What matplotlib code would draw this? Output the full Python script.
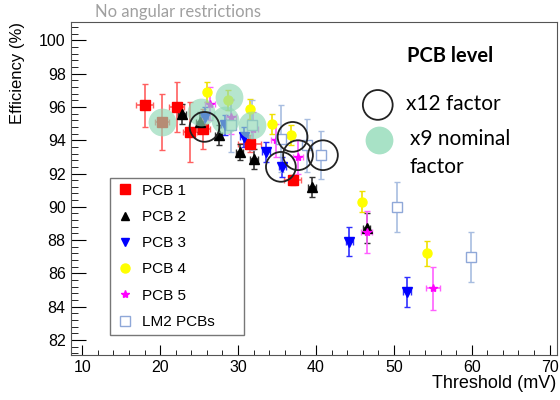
import matplotlib
matplotlib.use("Agg")
import matplotlib.pyplot as plt
from matplotlib.lines import Line2D
from matplotlib.ticker import MultipleLocator

plt.rcParams['font.family'] = ['Liberation Sans', 'DejaVu Sans']

# PCB 1
pcb1_x = [18.0, 20.3, 22.1, 23.8, 25.5, 31.5, 37.0]
pcb1_y = [96.1, 95.1, 96.0, 94.5, 94.7, 93.8, 91.6]
pcb1_xe = [1.1, 0.9, 0.9, 0.9, 0.9, 1.5, 1.1]
pcb1_ye = [1.3, 1.7, 1.5, 1.8, 1.2, 0.5, 0.3]
# PCB 2
pcb2_x = [22.8, 25.1, 27.5, 30.2, 32.0, 39.5, 46.5]
pcb2_y = [95.6, 95.1, 94.3, 93.3, 92.9, 91.2, 88.7]
pcb2_xe = [0.5, 0.5, 0.5, 0.5, 0.5, 0.5, 0.5]
pcb2_ye = [0.6, 0.6, 0.6, 0.5, 0.6, 0.6, 0.9]
# PCB 3
pcb3_x = [25.7, 28.3, 30.8, 33.6, 35.7, 44.3, 51.7]
pcb3_y = [95.4, 94.9, 94.2, 93.3, 92.4, 87.9, 84.9]
pcb3_xe = [0.5, 0.5, 0.5, 0.5, 0.5, 0.5, 0.5]
pcb3_ye = [0.6, 0.6, 0.6, 0.6, 0.6, 0.87, 0.9]
# PCB 4
pcb4_x = [26.0, 28.7, 31.5, 34.4, 36.8, 45.9, 54.3]
pcb4_y = [96.9, 96.4, 95.9, 95.0, 94.3, 90.3, 87.2]
pcb4_ye = [0.6, 0.6, 0.6, 0.6, 0.6, 0.63, 0.75]
# PCB 5
pcb5_x = [26.4, 29.1, 31.9, 34.9, 37.7, 46.5, 55.0]
pcb5_y = [96.2, 95.4, 94.7, 94.0, 93.0, 88.5, 85.1]
pcb5_xe = [0.7, 0.7, 0.7, 0.7, 0.7, 0.7, 0.9]
pcb5_ye = [1.0, 1.0, 1.0, 1.0, 1.0, 1.27, 1.3]
# LM2 PCBs
lm2_x = [29.1, 31.8, 35.5, 38.8, 40.7, 50.4, 59.9]
lm2_y = [94.9, 94.9, 94.1, 93.7, 93.1, 90.0, 87.0]
lm2_ye = [1.6, 1.5, 2.0, 1.6, 1.45, 1.5, 1.5]

# x12 factor (open circles) and x9 nominal factor (green)
x12_x = [25.7, 37.0, 37.7, 35.5, 40.9]
x12_y = [94.8, 94.2, 93.1, 92.4, 93.1]
x9_x = [20.3, 25.3, 28.8, 28.3, 31.8]
x9_y = [95.1, 95.7, 96.6, 95.2, 94.9]

fig = plt.figure(figsize=(5.6, 4.0), dpi=100)
ax = fig.add_axes([0.126, 0.1125, 0.868, 0.8325])

ax.errorbar(pcb1_x, pcb1_y, xerr=pcb1_xe, yerr=pcb1_ye, fmt='s', color='#ff0000',
            ecolor='#ff6060', ms=7, capsize=2, elinewidth=1.2, zorder=3)
ax.errorbar(pcb2_x, pcb2_y, xerr=pcb2_xe, yerr=pcb2_ye, fmt='^', color='black',
            ecolor='#333333', ms=6.5, capsize=2, elinewidth=1.2, zorder=3)
ax.errorbar(pcb3_x, pcb3_y, xerr=pcb3_xe, yerr=pcb3_ye, fmt='v', color='#0000ff',
            ecolor='#3030ff', ms=6.5, capsize=2, elinewidth=1.2, zorder=3)
ax.errorbar(pcb4_x, pcb4_y, yerr=pcb4_ye, fmt='o', color='#ffff00',
            ecolor='#f0e000', ms=6.5, capsize=2, elinewidth=1.2, zorder=3)
ax.errorbar(pcb5_x, pcb5_y, xerr=pcb5_xe, yerr=pcb5_ye, fmt='*', color='#ff00ff',
            ecolor='#ff60ff', ms=6, capsize=2, elinewidth=1.2, zorder=3)
ax.errorbar(lm2_x, lm2_y, yerr=lm2_ye, fmt='s', color='#a8bde0', mfc='white',
            mec='#8fa8d8', ms=7, capsize=2, elinewidth=1.2, zorder=3)

ax.scatter(x9_x, x9_y, s=400, color='#8fd8b4', alpha=0.65, lw=0, zorder=4)
ax.scatter(x12_x, x12_y, s=460, facecolors='none', edgecolors='#222222', lw=1.3, zorder=5)

ax.set_xlim(8.5, 70.9)
ax.set_ylim(81.1, 101.1)
ax.xaxis.set_major_locator(MultipleLocator(10))
ax.xaxis.set_minor_locator(MultipleLocator(2))
ax.yaxis.set_major_locator(MultipleLocator(2))
ax.yaxis.set_minor_locator(MultipleLocator(0.4))
ax.tick_params(which='both', direction='in', top=False, right=False, labelsize=11.5)
ax.tick_params(axis='y', which='major', length=11)
ax.tick_params(axis='y', which='minor', length=5)
ax.tick_params(axis='x', which='major', length=7)
ax.tick_params(axis='x', which='minor', length=3.5)
for sp in ax.spines.values():
    sp.set_color('#555555')

handles = [
    Line2D([], [], ls='none', marker='s', color='#ff0000', ms=6.5),
    Line2D([], [], ls='none', marker='^', color='black', ms=6),
    Line2D([], [], ls='none', marker='v', color='#0000ff', ms=6),
    Line2D([], [], ls='none', marker='o', color='#ffff00', ms=6.5),
    Line2D([], [], ls='none', marker='*', color='#ff00ff', ms=6),
    Line2D([], [], ls='none', marker='s', mfc='white', mec='#8fa8d8', ms=6.5),
]
labels = ['PCB 1', 'PCB 2', 'PCB 3', 'PCB 4', 'PCB 5', 'LM2 PCBs']
leg = ax.legend(handles, labels, loc='lower left', bbox_to_anchor=(0.081, 0.06, 0.276, 0.49),
                mode='expand', fontsize=11, frameon=True, fancybox=False,
                borderaxespad=0, labelspacing=0.8, handlelength=1.2,
                handletextpad=0.5, borderpad=0.4)
leg.get_frame().set_edgecolor('#555555')
leg.get_frame().set_linewidth(1.0)

# right-hand key
ax.scatter([0.632], [0.751], s=460, facecolors='none', edgecolors='#222222', lw=1.3,
           transform=ax.transAxes, clip_on=False)
ax.scatter([0.634], [0.646], s=400, color='#a8e2c6', lw=0,
           transform=ax.transAxes, clip_on=False)
fig.text(450 / 560, 1 - 56 / 400, 'PCB level', family='Lato', fontweight='bold',
         fontsize=14.5, ha='center', va='center')
fig.text(406 / 560, 1 - 104 / 400, 'x12 factor', family='Lato', fontsize=15,
         ha='left', va='center')
fig.text(410 / 560, 1 - 153 / 400, 'x9 nominal\nfactor', family='Lato', fontsize=15,
         ha='left', va='center', linespacing=1.45)

fig.text(95 / 560, 1 - 12 / 400, 'No angular restrictions', family='Lato', color='#a0a0a0',
         fontsize=12, ha='left', va='center')
fig.text(18 / 560, 1 - 22 / 400, 'Efficiency (%)', rotation=90, fontsize=12,
         ha='center', va='top')
fig.text(556 / 560, 1 - 383 / 400, 'Threshold (mV)', fontsize=13, ha='right', va='center')

fig.savefig('out.png', dpi=100)
